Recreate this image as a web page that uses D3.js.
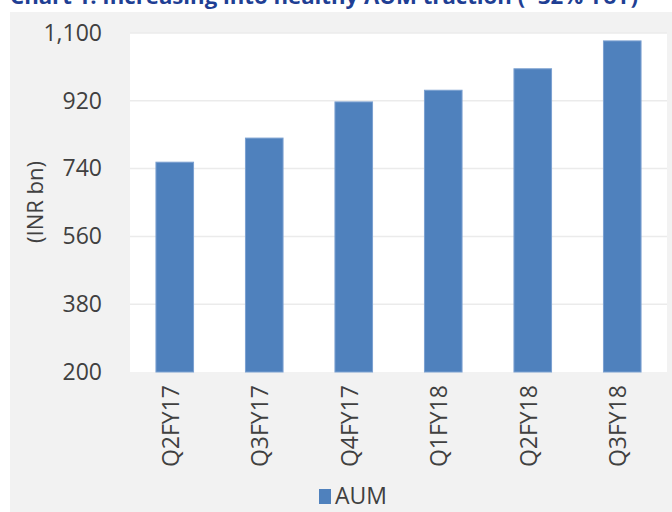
<!DOCTYPE html>
<html>
<head>
<meta charset="utf-8">
<script src="https://cdn.jsdelivr.net/npm/d3@7"></script>
<style>
  body{margin:0;background:#fff;}
  svg{display:block;font-family:"Open Sans",sans-serif;}
</style>
</head>
<body>
<div id="chart"></div>
<script>
// quarters on x axis
var categories=["Q2FY17","Q3FY17","Q4FY17","Q1FY18","Q2FY18","Q3FY18"];
// AUM (INR bn)
var aum=[757,821,917,948,1005,1079];
var yTicks=[200,380,560,740,920,1100];
var seriesName="AUM";
var chartTitle="Chart 1: Increasing into healthy AUM traction (~32% YoY)";

var W=672,H=512;
var plot={left:130,right:667,top:33,bottom:372};

var svg=d3.select("#chart").append("svg")
  .attr("width",W)
  .attr("height",H);

// grey chart area
svg.append("rect")
  .attr("x",10).attr("y",12)
  .attr("width",W-10).attr("height",H-12)
  .attr("fill","#f2f2f2");

// title, clipped at top like the source
svg.append("text")
  .attr("x",10).attr("y",4)
  .attr("fill","#1f3f94")
  .style("font-weight","bold")
  .style("font-size","21px")
  .attr("textLength",628)
  .attr("lengthAdjust","spacingAndGlyphs")
  .text(chartTitle);

// plot area
svg.append("rect")
  .attr("x",plot.left).attr("y",plot.top)
  .attr("width",plot.right-plot.left).attr("height",plot.bottom-plot.top)
  .attr("fill","#ffffff");

var x=d3.scaleBand()
  .domain(categories)
  .range([plot.left,plot.right])
  .paddingInner(0.58)
  .paddingOuter(0.29);

var y=d3.scaleLinear()
  .domain([200,1100])
  .range([plot.bottom,plot.top]);

// gridlines
svg.append("g")
  .selectAll("line")
  .data(yTicks.slice(1))
  .enter().append("line")
  .attr("x1",plot.left).attr("x2",plot.right)
  .attr("y1",function(d){return y(d);})
  .attr("y2",function(d){return y(d);})
  .attr("stroke","#ebebeb")
  .attr("stroke-width",1.5);

// bars
svg.append("g")
  .selectAll("rect")
  .data(aum)
  .enter().append("rect")
  .attr("x",function(d,i){return x(categories[i]);})
  .attr("y",function(d){return y(d);})
  .attr("width",x.bandwidth())
  .attr("height",function(d){return y(200)-y(d);})
  .attr("fill","#4f81bd")
  .attr("stroke","#7ba0d0")
  .attr("stroke-width",1);

// y axis
var yAxis=svg.append("g")
  .attr("transform","translate("+plot.left+",0)")
  .call(d3.axisLeft(y).tickValues(yTicks).tickSize(0).tickPadding(28).tickFormat(d3.format(",")));
yAxis.select(".domain").remove();
yAxis.selectAll("text")
  .style("font-size","23px")
  .style("font-family","Open Sans")
  .attr("fill","#404040");

// x axis (rotated labels)
var xAxis=svg.append("g")
  .attr("transform","translate(0,"+plot.bottom+")")
  .call(d3.axisBottom(x).tickSize(0));
xAxis.select(".domain").remove();
xAxis.selectAll("text")
  .style("font-size","23px")
  .style("font-family","Open Sans")
  .attr("fill","#404040")
  .attr("transform","rotate(-90)")
  .attr("text-anchor","end")
  .attr("x",-13)
  .attr("y",-4)
  .attr("dy","0.35em");

// y axis title
svg.append("text")
  .attr("transform","translate(43,202) rotate(-90)")
  .attr("text-anchor","middle")
  .style("font-size","22px")
  .attr("fill","#404040")
  .text("(INR bn)");

// legend
var leg=svg.append("g").attr("transform","translate(319,489)");
leg.append("rect")
  .attr("width",12).attr("height",15)
  .attr("fill","#4f81bd");
leg.append("text")
  .attr("x",16).attr("y",15)
  .style("font-size","23px")
  .attr("fill","#404040")
  .text(seriesName);
</script>
</body>
</html>
